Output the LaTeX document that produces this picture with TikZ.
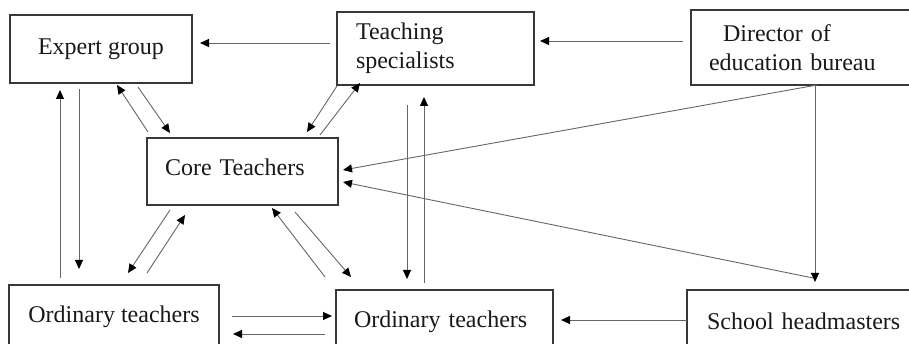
\documentclass[tikz,border=0pt]{standalone}
\usepackage{fontspec}
\setmainfont{Liberation Serif}
\usetikzlibrary{arrows.meta,calc}
\tikzset{
  box/.style={draw=black!78, line width=1.1pt, rectangle, inner ysep=0pt, outer sep=0pt,
    anchor=north west, font=\fontsize{24pt}{29pt}\selectfont, text=black!90},
  conn/.style={draw=black!60, line width=0.9pt, -{Triangle[length=9pt,width=8pt,fill=black,color=black]}},
}
\begin{document}
\begin{tikzpicture}[x=1pt,y=-1pt]
\clip (0,0) rectangle (909,344);
\fill[white] (0,0) rectangle (909,344);
% boxes
\node[box, minimum width=182pt, minimum height=68pt, align=center] (eg) at (10,15) {Expert group};
\node[box, minimum width=197pt, minimum height=73pt, align=left, inner xsep=19pt, text width=159pt] (ts) at (337,12) {Teaching\\specialists};
\node[box, minimum width=230pt, minimum height=75pt, align=left, inner xsep=18pt, text width=194pt] (dir) at (691,10) {\hspace*{14pt}Director of\\education bureau};
\node[box, minimum width=191pt, minimum height=67pt, align=left, inner xsep=18pt, text width=155pt, text depth=9pt] (ct) at (147,138) {Core Teachers};
\node[box, minimum width=210pt, minimum height=63pt, align=center] (ol) at (9,285) {Ordinary teachers};
\node[box, minimum width=217pt, minimum height=63pt, align=left, inner xsep=18pt, text width=181pt] (om) at (336,290) {Ordinary teachers};
\node[box, minimum width=250pt, minimum height=63pt, align=left, inner xsep=20pt, text width=210pt] (sh) at (687,290) {School headmasters};
% connectors
\draw[conn] ($(ts.north west)+(-7,31)$) -- ($(eg.north east)+(8,28)$);
\draw[conn] ($(dir.north west)+(-8,31)$) -- ($(ts.north east)+(6,29)$);
\draw[conn] ($(ct.north west)+(1,-6)$) -- ($(eg.south west)+(107,2)$);
\draw[conn] ($(eg.south west)+(128,4)$) -- ($(ct.north west)+(23,-5)$);
\draw[conn] ($(ts.south west)+(0,1)$) -- ($(ct.north west)+(160,-6)$);
\draw[conn] ($(ct.north west)+(173,-3)$) -- ($(ts.south west)+(23,-2)$);
\draw[conn] ($(ol.north west)+(51,-7)$) -- ($(eg.south west)+(50,7)$);
\draw[conn] ($(eg.south west)+(69,6)$) -- ($(ol.north west)+(70,-16)$);
\draw[conn] ($(dir.south west)+(126,0)$) -- ($(ct.north east)+(5,32)$);
\draw[conn] ($(dir.south west)+(124,0)$) -- ($(sh.north west)+(128,-8)$);
\draw[conn] ($(sh.north west)+(126,-12)$) -- ($(ct.north east)+(5,44)$);
\draw[conn] ($(ct.south west)+(23,5)$) -- ($(ol.north west)+(119,-12)$);
\draw[conn] ($(ol.north west)+(138,-12)$) -- ($(ct.south west)+(38,10)$);
\draw[conn] ($(om.north west)+(-11,-13)$) -- ($(ct.south west)+(125,3)$);
\draw[conn] ($(ct.south west)+(148,7)$) -- ($(om.north west)+(15,-13)$);
\draw[conn] ($(ts.south west)+(70,20)$) -- ($(om.north west)+(71,-11)$);
\draw[conn] ($(om.north west)+(88,-7)$) -- ($(ts.south west)+(87,12)$);
\draw[conn] ($(ol.north east)+(13,31)$) -- ($(om.north west)+(-4,26)$);
\draw[conn] ($(om.north west)+(-11,44)$) -- ($(ol.north east)+(14,49)$);
\draw[conn] ($(sh.north west)+(0,30)$) -- ($(om.north east)+(8,30)$);
\end{tikzpicture}
\end{document}
